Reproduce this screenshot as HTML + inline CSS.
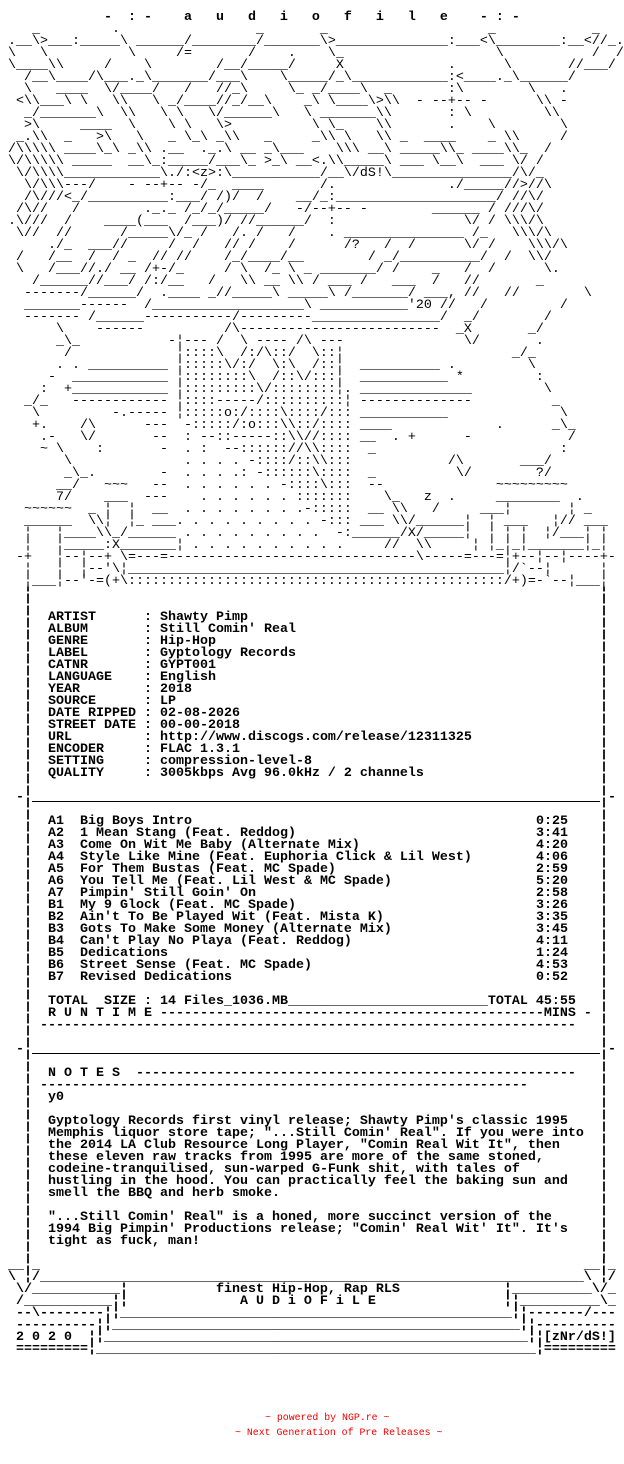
<!DOCTYPE html>
<html><head><meta charset="utf-8"><style>
html,body{margin:0;padding:0;background:#fff;}
#w{position:relative;width:624px;height:1464px;overflow:hidden;background:#fff;}
.m{position:absolute;margin:0;font-family:"Liberation Mono",monospace;font-size:13.33px;line-height:12px;white-space:pre;color:#000;}
.b{font-weight:bold;}
.ln{position:absolute;height:1px;background:#000;}
.r{position:absolute;margin:0;font-family:"Liberation Mono",monospace;font-size:9.9px;line-height:12px;white-space:pre;color:#e00;}
</style></head><body><div id="w">
<pre class="m b" style="left:0;top:12px;">             -  : -    a   u   d   i   o   f   i   l   e    - : -</pre>
<pre class="m" style="left:0;top:24px;">    _         .                 _       _                    _            _
 .__\&gt;___:_____\ ______/________/_______\&gt;______________:___&lt;\________:__&lt;//_.
 \   \          \     /=       /    .    \_                   \           /  /
 \____\\     /    \        /__/_____/     X             .      \       //___/
   /__\____/\___._\_______/___\    \_____/_\____________:&lt;____._\______/
   \   ____  \/____/   /   //_\     \_ _/____\  _       :\        \   .
  &lt;\\___\ \   \\   \ _/____//_/__\    _\ \____\&gt;\\  - --+-- -      \\ -
   _/_______\  \\   \ \   \/______\   \ _______\\       : \         \\
   &gt;\     ____  \    \ \   \&gt;          \ \_    \\       .    \        \
  _.\\  _   &gt;\   \   _ \_\ _\\   _     _\\ \   \\ _  ____    _ \\     /
 /\\\\\ ____\_\ _\\ .__  ._.\ __ _\___    \\\ __\ _____\\_ ____\\_  /
 \/\\\\\ _____  __\_:_____/___\_ &gt;_\ __&lt;.\\_____\ ___ \__\  ___ \/ /
  \/\\\\____________\./:&lt;z&gt;:\___________/__\/dS!\_______________/\/_
   \/\\\---/    - --+-- -/_  ____       /.              ./_____//&gt;//\
   /\///&lt;_/__________:___/ /)/  /    __/_:____________________/ //\/
  /\//   /        ._._ /_/_/_____/   -/--+-- -        ______ / ///\/
 .\///  /    ____(___  /___)/ //______/  :                \/ / \\\/\
  \//  //      /_____\/_ /   /. /   /    . _______________ /_   \\\/\
      ./_  ___//     /  /   // /    /      /?   /  /      \/ /    \\\/\
  /   /__  /  / _  // //    /_/____/__        / _/__________/  /  \\/
  \   /___//./ __ /+-/_     / \  /_ \ _ _______/ /    _   /  /      \.
    /______//___/ /:/__   /   \\ __ \\ / ___ /   ___  /   //       _
   -------/______/  .____ _//_____\ _____\ /_______/ ___, //   //        \
   _______------  /___________________\ ___________'20 //   /         /
   ------- /______-----------/---------________________/  _/        /
       \    ------          /\-------------------------  _X       _/
       _\_           -¦--- /  \ ---- /\ ---               \/       .
        /             ¦::::\  /:/\::/  \::¦                     _/_
       . . __________ ¦:::::\/:/  \:\  /::¦  __________ .         \
      -  ____________ ¦::::::::\  /::\/:::¦  ___________ *         :
     :  +____________ ¦:::::::::\/::::::::¦. ______________         \
   _/_   ------------ ¦::::-----/::::::::::¦ --------------          _
    \         -.----- ¦:::::o:/::::\::::/::: ___________              \
    +.    /\      ---  -:::::/:o:::\\::/:::: ____             .      _\_
     .-   \/       --  : --::-----::\\//:::: __  . +      -            /
     ~ \    :       -  . :  --:::::://\\::::  _                       :
        \              . . . . -::::/::\\:::            /\       ___/
        _\_.        -  . . . .: -::::::\::::  _          \/        ?/
       __/   ~~~   --  . . . . . . -::::\:::  --              ~~~~~~~~~
       7/    ___  ---    . . . . . . :::::::    \_   z  .     ________  .
   ~~~~~~  _ ¦  ¦  __  . . . . . . . .-:::::  __ \\   /     ___¦       ¦ _
   ______  \\¦  ¦_ ___. . . . . . . . . -::: ___ \\/______¦  ¦ ___   ¦// ___
   ¦   ¦____\\_/______ . . . . . . . . .  -:______/X/_____¦  ¦ ¦ ¦  ¦/___¦ ¦
   ¦   ¦_____:X_______¦ . . . . . . . . . .     //  \\     ¦ ¦_¦_¦_______¦_¦
  -+   ¦--¦--+ \=---=-------------------------------\-----=---=¦+--¦--¦----+-
   ¦   ¦  ¦--'\¦_______________________________________________¦/`--¦      ¦
   ¦___¦--'-=(+\:::::::::::::::::::::::::::::::::::::::::::::::/+)=-`--¦___¦</pre>
<pre class="m b" style="left:24px;top:588px;">¦
¦
¦
¦
¦
¦
¦
¦
¦
¦
¦
¦
¦
¦
¦
¦
¦
¦
¦
¦
¦
¦
¦
¦
¦
¦
¦
¦
¦
¦
¦
¦
¦
¦
¦
¦
¦
¦
¦
¦
¦
¦
¦
¦
¦
¦
¦
¦
¦
¦
¦
¦
¦
¦
¦
¦</pre>
<pre class="m b" style="left:600px;top:588px;">¦
¦
¦
¦
¦
¦
¦
¦
¦
¦
¦
¦
¦
¦
¦
¦
¦
¦
¦
¦
¦
¦
¦
¦
¦
¦
¦
¦
¦
¦
¦
¦
¦
¦
¦
¦
¦
¦
¦
¦
¦
¦
¦
¦
¦
¦
¦
¦
¦
¦
¦
¦
¦
¦
¦
¦</pre>
<pre class="m b" style="left:16px;top:792px;">-</pre>
<pre class="m b" style="left:608px;top:792px;">-</pre>
<div class="ln" style="left:32px;top:801px;width:568px;"></div>
<pre class="m b" style="left:16px;top:1044px;">-</pre>
<pre class="m b" style="left:608px;top:1044px;">-</pre>
<div class="ln" style="left:32px;top:1053px;width:568px;"></div>
<pre class="m b" style="left:48px;top:612px;">ARTIST      : Shawty Pimp
ALBUM       : Still Comin' Real
GENRE       : Hip-Hop
LABEL       : Gyptology Records
CATNR       : GYPT001
LANGUAGE    : English
YEAR        : 2018
SOURCE      : LP
DATE RIPPED : 02-08-2026
STREET DATE : 00-00-2018
URL         : http://www.discogs.com/release/12311325
ENCODER     : FLAC 1.3.1
SETTING     : compression-level-8
QUALITY     : 3005kbps Avg 96.0kHz / 2 channels</pre>
<pre class="m b" style="left:48px;top:816px;">A1  Big Boys Intro
A2  1 Mean Stang (Feat. Reddog)
A3  Come On Wit Me Baby (Alternate Mix)
A4  Style Like Mine (Feat. Euphoria Click &amp; Lil West)
A5  For Them Bustas (Feat. MC Spade)
A6  You Tell Me (Feat. Lil West &amp; MC Spade)
A7  Pimpin' Still Goin' On
B1  My 9 Glock (Feat. MC Spade)
B2  Ain't To Be Played Wit (Feat. Mista K)
B3  Gots To Make Some Money (Alternate Mix)
B4  Can't Play No Playa (Feat. Reddog)
B5  Dedications
B6  Street Sense (Feat. MC Spade)
B7  Revised Dedications</pre>
<pre class="m b" style="left:536px;top:816px;">0:25
3:41
4:20
4:06
2:59
5:20
2:58
3:26
3:35
3:45
4:11
1:24
4:53
0:52</pre>
<pre class="m b" style="left:48px;top:996px;">TOTAL  SIZE : 14 Files_1036.MB_________________________TOTAL 45:55
R U N T I M E ------------------------------------------------MINS -</pre>
<pre class="m b" style="left:40px;top:1020px;">-------------------------------------------------------------------</pre>
<pre class="m b" style="left:48px;top:1068px;">N O T E S  -------------------------------------------------------</pre>
<pre class="m b" style="left:40px;top:1080px;">-------------------------------------------------------------</pre>
<pre class="m b" style="left:48px;top:1092px;">y0</pre>
<pre class="m b" style="left:48px;top:1116px;">Gyptology Records first vinyl release; Shawty Pimp's classic 1995
Memphis liquor store tape; "...Still Comin' Real". If you were into
the 2014 LA Club Resource Long Player, "Comin Real Wit It", then
these eleven raw tracks from 1995 are more of the same stoned,
codeine-tranquilised, sun-warped G-Funk shit, with tales of
hustling in the hood. You can practically feel the baking sun and
smell the BBQ and herb smoke.

"...Still Comin' Real" is a honed, more succinct version of the
1994 Big Pimpin' Productions release; "Comin' Real Wit' It". It's
tight as fuck, man!</pre>
<pre class="m b" style="left:0;top:1260px;"> __¦_                                                                    __¦_
 \ ¦/____________________________________________________________________\ ¦/
  \/___________¦           finest Hip-Hop, Rap RLS             ¦__________\/_
  /___________¦¦              A U D i O F i L E                ¦¦__________\_
  --\--------¦¦_________________________________________________¦¦-------/---
  ----------¦¦___________________________________________________¦¦----------
  2 0 2 0  ¦¦_____________________________________________________¦¦[zNr/dS!]
  =========¦_______________________________________________________¦=========</pre>
<pre class="r" style="left:265px;top:1412px;">~ powered by NGP.re ~</pre>
<pre class="r" style="left:235px;top:1427px;">~ Next Generation of Pre Releases ~</pre>
</div></body></html>
